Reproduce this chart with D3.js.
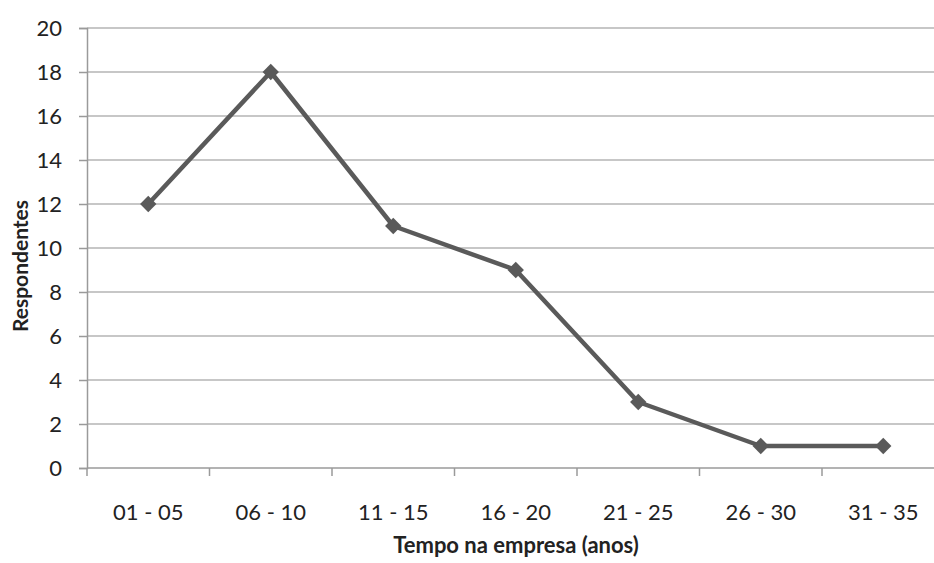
<!DOCTYPE html>
<html>
<head>
<meta charset="utf-8">
<script src="https://cdn.jsdelivr.net/npm/d3@7"></script>
<style>
  body { margin: 0; background: #fff; }
  text { font-family: Lato, "Open Sans", sans-serif; fill: #222; }
</style>
</head>
<body>
<svg width="934" height="563"></svg>
<script>
var categories = ["01 - 05", "06 - 10", "11 - 15", "16 - 20", "21 - 25", "26 - 30", "31 - 35"];
var respondentes = [12, 18, 11, 9, 3, 1, 1];
var yTicks = [0, 2, 4, 6, 8, 10, 12, 14, 16, 18, 20];

var svg = d3.select("svg");
var plotLeft = 87, plotTop = 28, plotBottom = 468;
var step = 122.5;

var x = d3.scaleBand().domain(categories).range([plotLeft, plotLeft + step * categories.length]);
var y = d3.scaleLinear().domain([0, 20]).range([plotBottom, plotTop]);

// gridlines
svg.append("g").selectAll("line")
  .data(yTicks.filter(function(d) { return d > 0; }))
  .enter().append("line")
  .attr("x1", plotLeft).attr("x2", 934)
  .attr("y1", function(d) { return y(d); })
  .attr("y2", function(d) { return y(d); })
  .attr("stroke", "#b4b4b4").attr("stroke-width", 1.5);

// y axis
var yAxis = svg.append("g")
  .attr("transform", "translate(" + plotLeft + ",0)")
  .call(d3.axisLeft(y).tickValues(yTicks).tickSize(8).tickPadding(17));
yAxis.selectAll("line").attr("stroke", "#9a9a9a").attr("stroke-width", 1.5);
yAxis.select(".domain").attr("stroke", "#9a9a9a").attr("stroke-width", 1.5);
yAxis.selectAll("text")
  .attr("font-size", "22px")
  .attr("dy", "0.36em")
  .style("font-family", "Lato, sans-serif")
  .attr("fill", "#222");

// x axis
svg.append("line")
  .attr("x1", plotLeft).attr("x2", 934)
  .attr("y1", plotBottom).attr("y2", plotBottom)
  .attr("stroke", "#9a9a9a").attr("stroke-width", 1.5);

var bounds = categories.map(function(c) { return x(c); });
bounds.push(x(categories[categories.length - 1]) + x.bandwidth());
svg.append("g").selectAll("line")
  .data(bounds.filter(function(b) { return b <= 934; }))
  .enter().append("line")
  .attr("x1", function(d) { return d; }).attr("x2", function(d) { return d; })
  .attr("y1", plotBottom).attr("y2", plotBottom + 8)
  .attr("stroke", "#9a9a9a").attr("stroke-width", 1.5);

svg.append("g").selectAll("text")
  .data(categories)
  .enter().append("text")
  .attr("x", function(d) { return x(d) + x.bandwidth() / 2; })
  .attr("y", 520)
  .attr("text-anchor", "middle")
  .attr("font-size", "22px")
  .text(function(d) { return d; });

// line
var line = d3.line()
  .x(function(d, i) { return x(categories[i]) + x.bandwidth() / 2; })
  .y(function(d) { return y(d); });

svg.append("path")
  .datum(respondentes)
  .attr("d", line)
  .attr("fill", "none")
  .attr("stroke", "#5a5a5a")
  .attr("stroke-width", 4.5)
  .attr("stroke-linejoin", "round");

svg.append("g").selectAll("path")
  .data(respondentes)
  .enter().append("path")
  .attr("transform", function(d, i) {
    return "translate(" + (x(categories[i]) + x.bandwidth() / 2) + "," + y(d) + ")";
  })
  .attr("d", d3.symbol().type(d3.symbolDiamond2).size(170))
  .attr("fill", "#5a5a5a");

// axis titles
svg.append("text")
  .attr("x", 516).attr("y", 553)
  .attr("text-anchor", "middle")
  .attr("font-size", "22px")
  .attr("font-weight", "bold")
  .text("Tempo na empresa (anos)");

svg.append("text")
  .attr("transform", "translate(28,266) rotate(-90)")
  .attr("text-anchor", "middle")
  .attr("font-size", "21px")
  .attr("font-weight", "bold")
  .text("Respondentes");
</script>
</body>
</html>
